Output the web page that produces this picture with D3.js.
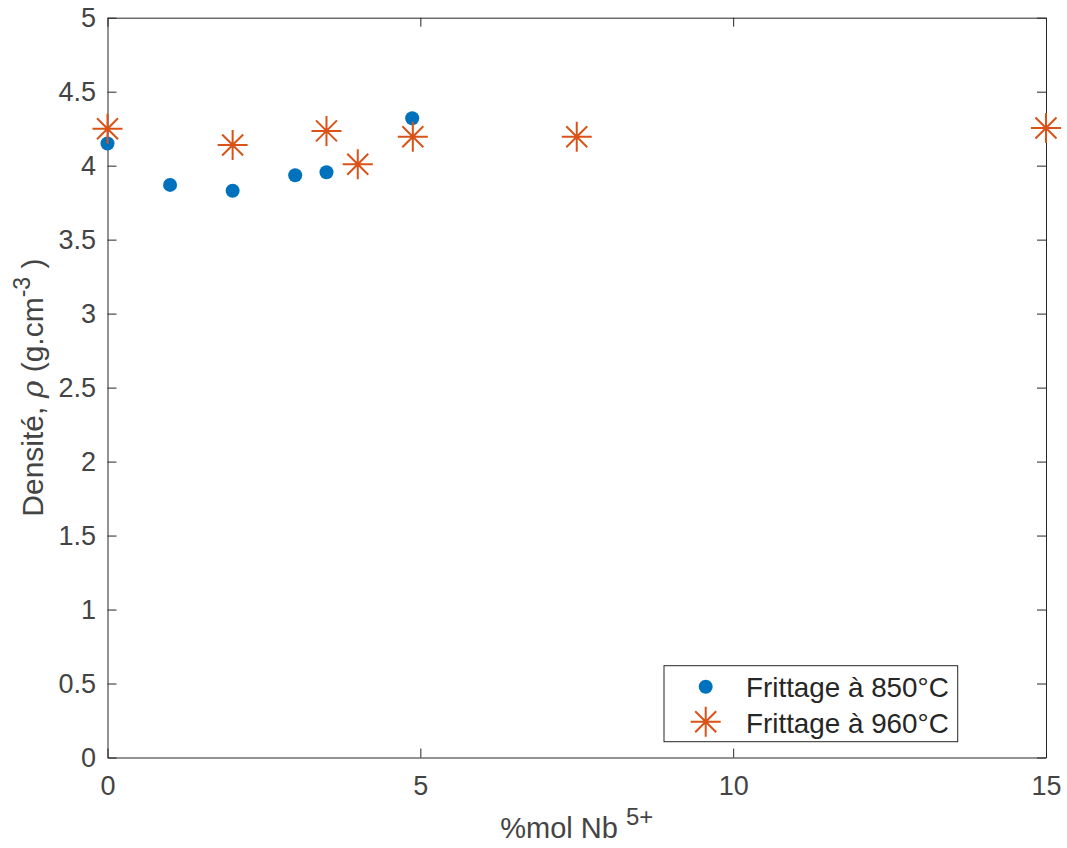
<!DOCTYPE html>
<html><head><meta charset="utf-8">
<script src="https://cdn.jsdelivr.net/npm/d3@7"></script>
<style>body{margin:0;background:#fff} text{font-family:"Liberation Sans",Arial,Helvetica,sans-serif}</style>
</head><body><svg id="c" width="1067" height="848"></svg>
<script>
// Data
const x850 = [0, 1, 2, 3, 3.5, 4.87];
const y850 = [4.15, 3.87, 3.83, 3.935, 3.955, 4.32];
const x960 = [0, 2, 3.5, 4, 4.88, 7.5, 15];
const y960 = [4.25, 4.14, 4.235, 4.01, 4.195, 4.195, 4.255];
const xTicks = [0, 5, 10, 15];
const yTicks = [0, 0.5, 1, 1.5, 2, 2.5, 3, 3.5, 4, 4.5, 5];
const seriesNames = ["Frittage à 850°C", "Frittage à 960°C"];

const svg = d3.select("#c");
const L = 107.5, R = 1046, T = 17.7, B = 757.5;
const x = d3.scaleLinear().domain([0, 15]).range([L, R]);
const y = d3.scaleLinear().domain([0, 5]).range([B, T]);
const axisCol = "#262626", labCol = "#444444";
const blue = "#0072BD", orange = "#D95319";

function styleAxis(g) {
  g.select(".domain").attr("stroke", axisCol).attr("stroke-width", 1);
  g.selectAll(".tick line").attr("stroke", axisCol).attr("stroke-width", 1);
  g.selectAll(".tick text").attr("fill", labCol).style("font-size", "27px")
    .style("font-family", '"Liberation Sans",Arial,sans-serif');
}
const fmt = d => String(d);
svg.append("g").attr("transform", `translate(0,${B})`)
  .call(d3.axisBottom(x).tickValues(xTicks).tickFormat(fmt).tickSizeInner(-9).tickSizeOuter(0).tickPadding(18.5))
  .call(styleAxis);
svg.append("g").attr("transform", `translate(0,${T})`)
  .call(d3.axisTop(x).tickValues(xTicks).tickFormat("").tickSizeInner(-9).tickSizeOuter(0))
  .call(styleAxis);
svg.append("g").attr("transform", `translate(${L},0)`)
  .call(d3.axisLeft(y).tickValues(yTicks).tickFormat(fmt).tickSizeInner(-9).tickSizeOuter(0).tickPadding(11.5))
  .call(styleAxis);
svg.append("g").attr("transform", `translate(${R},0)`)
  .call(d3.axisRight(y).tickValues(yTicks).tickFormat("").tickSizeInner(-9).tickSizeOuter(0))
  .call(styleAxis);

// Axis labels
const xl = svg.append("text").attr("x", (L + R) / 2).attr("y", 838)
  .attr("text-anchor", "middle").attr("fill", labCol).style("font-size", "29px");
xl.append("tspan").text("%mol Nb ");
xl.append("tspan").attr("dy", -13).style("font-size", "24px").text("5+");

const yl = svg.append("text").attr("transform", `translate(43,${(T + B) / 2}) rotate(-90)`)
  .attr("text-anchor", "middle").attr("fill", labCol).style("font-size", "30px");
yl.append("tspan").text("Densité, ");
yl.append("tspan").style("font-style", "italic").style("font-family", '"DejaVu Serif",serif').text("ρ");
yl.append("tspan").text("  (g.cm");
yl.append("tspan").attr("dy", -13).style("font-size", "23px").text("-3");
yl.append("tspan").attr("dy", 13).text(" )");

const starPath = s => {
  const d = s * 0.7;
  return `M${-s},0L${s},0M0,${-s}L0,${s}M${-d},${-d}L${d},${d}M${-d},${d}L${d},${-d}`;
};

// Series 850
svg.append("g").selectAll("circle").data(x850.map((v, i) => [v, y850[i]])).join("circle")
  .attr("cx", d => x(d[0])).attr("cy", d => y(d[1])).attr("r", 7).attr("fill", blue);
// Series 960
svg.append("g").selectAll("path").data(x960.map((v, i) => [v, y960[i]])).join("path")
  .attr("transform", d => `translate(${x(d[0])},${y(d[1])})`)
  .attr("d", starPath(15)).attr("stroke", orange).attr("stroke-width", 2).attr("fill", "none");

// Legend
const lg = svg.append("g");
lg.append("rect").attr("x", 664).attr("y", 665.7).attr("width", 293.7).attr("height", 76)
  .attr("fill", "#fff").attr("stroke", axisCol).attr("stroke-width", 1);
lg.append("circle").attr("cx", 705.7).attr("cy", 686.7).attr("r", 7).attr("fill", blue);
lg.append("path").attr("transform", "translate(705.7,721.7)").attr("d", starPath(15))
  .attr("stroke", orange).attr("stroke-width", 2).attr("fill", "none");
lg.selectAll("text.leg").data(seriesNames).join("text").attr("class", "leg")
  .attr("x", 746).attr("y", (d, i) => 696.7 + i * 36).attr("fill", "#262626")
  .style("font-size", "27.8px").text(d => d);
</script></body></html>
